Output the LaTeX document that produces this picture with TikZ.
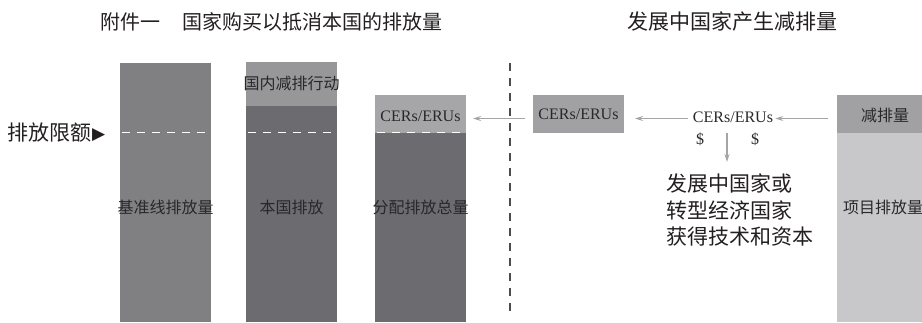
\documentclass[tikz,border=0pt]{standalone}
\usepackage{fontspec}
\setmainfont{Liberation Serif}
\newfontfamily\cjk{Noto Sans CJK SC}
\newfontfamily\symfont{DejaVu Sans}
\usetikzlibrary{arrows.meta}
\definecolor{barA}{RGB}{128,128,131}
\definecolor{barDark}{RGB}{108,108,112}
\definecolor{barLight}{RGB}{151,151,154}
\definecolor{barLighter}{RGB}{166,166,169}
\definecolor{cbox}{RGB}{161,161,164}
\definecolor{pale}{RGB}{200,200,202}
\definecolor{txt}{RGB}{35,31,32}
\definecolor{bartxt}{RGB}{40,40,42}
\definecolor{arr}{RGB}{165,165,167}
\begin{document}
\begin{tikzpicture}[x=1pt,y=-1pt,
  blk/.style={draw=none,inner sep=0pt,outer sep=0pt,anchor=north west},
  lbl/.style={inner sep=0pt,text=bartxt,font=\cjk\fontsize{16}{16}\selectfont},
  lat/.style={inner sep=0pt,text=bartxt,font=\fontsize{16}{16}\selectfont},
  garrow/.style={draw=arr,line width=1.2pt,-{Stealth[length=8pt,width=5pt]}},
  limit/.style={draw=white,line width=1.3pt,dash pattern=on 8pt off 7pt},
  divider/.style={draw=black!70,line width=1.1pt,dash pattern=on 8pt off 7pt}]
\useasboundingbox (0,0) rectangle (922,322);
% titles
\node[anchor=west,inner sep=0pt,text=txt,font=\cjk\fontsize{20}{20}\selectfont] (t1) at (100,22) {附件一\hspace{1.1em}国家购买以抵消本国的排放量};
\node[anchor=west,inner sep=0pt,text=txt,font=\cjk\fontsize{21}{21}\selectfont] (t2) at (627,22) {发展中国家产生减排量};
% bars
\node[blk,fill=barA,minimum width=91pt,minimum height=259.5pt] (b1) at (120,62.5) {};
\node[blk,fill=barLight,minimum width=91pt,minimum height=44pt] (b2top) at (246,62) {};
\node[blk,fill=barDark,minimum width=91pt,minimum height=216pt] (b2) at (246,106) {};
\node[blk,fill=barLighter,minimum width=91pt,minimum height=38pt] (b3top) at (375,95) {};
\node[blk,fill=barDark,minimum width=91pt,minimum height=189pt] (b3) at (375,133) {};
% limit line
\draw[limit] (122,132.7) -- (211,132.7);
\draw[limit] (248,132.7) -- (337,132.7);
\draw[limit] (377,132.7) -- (466,132.7);
\node[anchor=west,inner sep=0pt,text=txt,font=\cjk\fontsize{21}{21}\selectfont] (lim) at (7,133) {排放限额\hspace{1pt}\raisebox{1.5pt}{\symfont\fontsize{17}{17}\selectfont ▶}};
% bar labels
\node[lbl] (l1) at (165.5,207) {基准线排放量};
\node[lbl] (l2) at (291.5,207) {本国排放};
\node[lbl] (l3) at (420.5,207) {分配排放总量};
\node[lbl] (l2t) at (291.5,83) {国内减排行动};
\node[lat] (l3t) at (420.5,116) {CERs/ERUs};
% divider
\coordinate (dv1) at (510,63);
\coordinate (dv2) at (510,312);
\draw[divider] (dv1) -- (dv2);
% right side
\node[blk,fill=cbox,minimum width=91pt,minimum height=38pt] (cb) at (533,95) {};
\node[lat] at (cb.center) (cbt) {CERs/ERUs};
\node[lat] (cmid) at (733,117) {CERs/ERUs};
\node[blk,fill=cbox,minimum width=85pt,minimum height=38pt] (rtop) at (837,95) {};
\node[blk,fill=pale,minimum width=85pt,minimum height=189pt] (rbot) at (837,133) {};
\node[lbl] (rt) at (885,115) {减排量};
\node[lbl] (rb) at (883,207) {项目排放量};
\node[lat] (d1) at (700,139) {\$};
\node[lat] (d2) at (755,139) {\$};
\node[anchor=north west,inner sep=0pt,text=txt,font=\cjk\fontsize{21}{26.5}\selectfont,align=left] (para) at (666,174) {发展中国家或\\转型经济国家\\获得技术和资本};
% arrows
\coordinate (a1end) at (473,118.5);
\draw[garrow] ([xshift=-8pt]cb.west |- a1end) -- (a1end);
\draw[garrow] ([xshift=-5pt]cmid.west |- a1end) -- ([xshift=11pt]cb.east |- a1end);
\draw[garrow] ([xshift=-9pt]rtop.west |- a1end) -- ([xshift=2pt]cmid.east |- a1end);
\coordinate (dtop) at (727,133);
\draw[garrow,shorten >=12pt] (dtop) -- (dtop |- para.north);
\end{tikzpicture}
\end{document}
